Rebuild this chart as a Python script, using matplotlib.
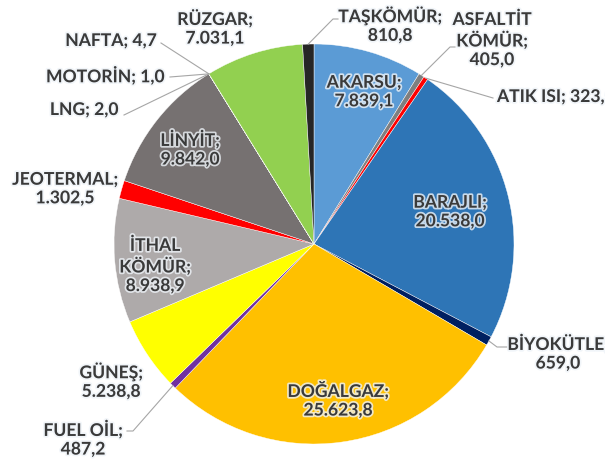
import matplotlib.pyplot as plt
import matplotlib.patheffects as pe
import numpy as np

# installed power by source (MW)
categories = ['AKARSU', 'ASFALTİT KÖMÜR', 'ATIK ISI', 'BARAJLI', 'BİYOKÜTLE',
              'DOĞALGAZ', 'FUEL OİL', 'GÜNEŞ', 'İTHAL KÖMÜR', 'JEOTERMAL',
              'LİNYİT', 'LNG', 'MOTORİN', 'NAFTA', 'RÜZGAR', 'TAŞKÖMÜR']
values = [7839.1, 405.0, 323.5, 20538.0, 659.0,
          25623.8, 487.2, 5238.8, 8938.9, 1302.5,
          9842.0, 2.0, 1.0, 4.7, 7031.1, 810.8]
colors = ['#5B9BD5', '#7F7F7F', '#FF0000', '#2E75B6', '#002060',
          '#FFC000', '#7030A0', '#FFFF00', '#AEAAAA', '#FF0000',
          '#767171', '#C9C9C9', '#A5A5A5', '#4472C4', '#92D050', '#262626']

W, H = 605, 466
CX, CY, R = 314, 244, 200

# label layout in image pixels: (x, y, ha, line split, leader end points)
layout = {
    'AKARSU':         (364, 92, 'center', 'nl', None),
    'ASFALTİT KÖMÜR': (492, 40, 'center', 'nl', [(450, 47), (455, 47)]),
    'ATIK ISI':       (497, 97, 'left', 'sp', [(493, 98)]),
    'BARAJLI':        (450, 212, 'center', 'nl', None),
    'BİYOKÜTLE':      (558, 353, 'center', 'nl', [(497, 347), (507, 347)]),
    'DOĞALGAZ':       (338, 400, 'center', 'nl', None),
    'FUEL OİL':       (83, 439, 'center', 'nl', [(133, 431), (127, 431)]),
    'GÜNEŞ':          (111, 381, 'center', 'nl', None),
    'İTHAL KÖMÜR':    (155, 266, 'center', 'nl', None),
    'JEOTERMAL':      (65, 189, 'center', 'nl', None),
    'LİNYİT':         (190, 149, 'center', 'nl', None),
    'LNG':            (84, 110, 'center', 'sp', [(124, 115)]),
    'MOTORİN':        (105, 76, 'center', 'sp', [(170, 77)]),
    'NAFTA':          (111, 41, 'center', 'sp', [(161, 43)]),
    'RÜZGAR':         (215, 28, 'center', 'nl', None),
    'TAŞKÖMÜR':       (390, 25, 'center', 'nl', [(333, 19), (338, 19)]),
}


def tr_fmt(v):
    s = f"{v:,.1f}"
    return s.replace(',', 'X').replace('.', ',').replace('X', '.')


fig = plt.figure(figsize=(W / 100, H / 100), dpi=100)
ax = fig.add_axes([0, 0, 1, 1])

wedges, _ = ax.pie(values, colors=colors, startangle=90, counterclock=False,
                   center=(CX, H - CY), radius=R,
                   wedgeprops=dict(edgecolor='white', linewidth=0.3))
ax.set_xlim(0, W)
ax.set_ylim(0, H)
ax.set_aspect('equal')
ax.axis('off')

glow = [pe.withStroke(linewidth=2.5, foreground='#EEF3F8', alpha=0.8)]

for w, name in zip(wedges, categories):
    x, y, ha, split, leader = layout[name]
    val = values[categories.index(name)]
    disp = name.replace(' ', '\n') if name in ('ASFALTİT KÖMÜR', 'İTHAL KÖMÜR') else name
    sep = '\n' if split == 'nl' else ' '
    txt = f"{disp};{sep}{tr_fmt(val)}"
    ax.text(x, H - y, txt, ha=ha, va='center', fontsize=12.6, fontweight='bold',
            family='Lato', color='#3A3A3A', linespacing=1.2,
            path_effects=glow, clip_on=False)
    if leader:
        mid = np.deg2rad((w.theta1 + w.theta2) / 2)
        px = [CX + R * np.cos(mid)] + [p[0] for p in leader]
        py = [H - CY + R * np.sin(mid)] + [H - p[1] for p in leader]
        ax.plot(px, py, color='#A6A6A6', lw=0.8)

fig.savefig('out.png', dpi=100)
